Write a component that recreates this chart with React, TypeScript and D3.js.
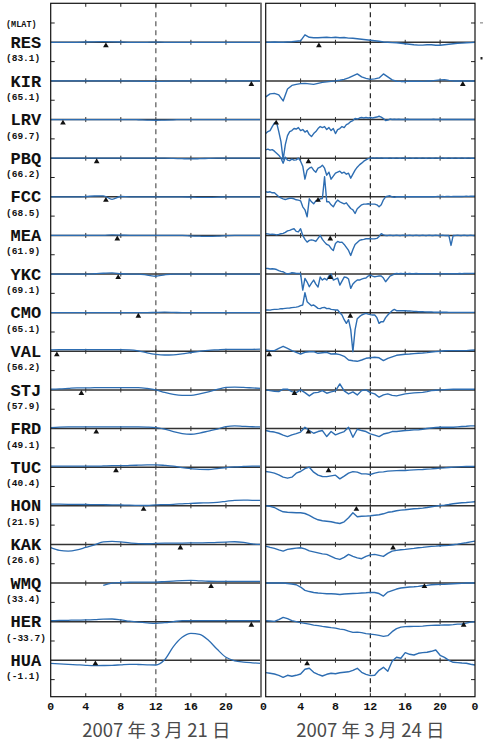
import React from 'react';
import * as d3 from 'd3';

// ---------- data ----------
const STATIONS = ['RES','KIR','LRV','PBQ','FCC','MEA','YKC','CMO','VAL','STJ','FRD','TUC','HON','KAK','WMQ','HER','HUA'];
const MLAT = ['(83.1)','(65.1)','(69.7)','(66.2)','(68.5)','(61.9)','(69.1)','(65.1)','(56.2)','(57.9)','(49.1)','(40.4)','(21.5)','(26.6)','(33.4)','(-33.7)','(-1.1)'];
const HOUR_TICKS = [0, 4, 8, 12, 16, 20, 24];
const HOUR_LABELS = ['0','4','8','12','16','20','0'];
const TITLES = ['2007 年 3 月 21 日', '2007 年 3 月 24 日'];
// UT hour of local-time marker (triangle) per station
const TRI_DAY1 = [6.3,22.9,1.4,5.25,6.3,7.6,7.7,10.0,0.7,3.5,5.2,7.45,10.6,14.8,18.3,22.9,5.1];
const TRI_DAY2 = [6.1,22.6,1.2,4.9,6.0,7.4,7.4,9.7,0.4,3.3,4.9,7.2,10.4,14.6,18.2,22.7,4.75];

// values in units of 10 nT, uniformly sampled over 0-24 UT (hourly for day 1)
const RES_1 = [0,0,0,0,0.3,0.5,0.6,0.5,0.3,0,0,0,0.2,0,0,0,0,0,0,0,0,0,0,0,0];
const KIR_1 = [0,0,0,0,0,0,0,0,0,0,-0.3,-0.5,-0.5,-0.3,0,0,0,0,0,0,0,0,0,0,0];
const LRV_1 = [0,0,0,0,0,0,0,0,0,0,-0.2,-0.5,-0.7,-0.5,-0.3,0,0,0,0,0,0,0,0,0,0];
const PBQ_1 = [0,0,0,0,0,0,0,0,0,0,0,0,0,0,-0.2,-0.5,-0.7,-0.5,-0.2,0,0,0,0,0,0];
const FCC_1 = [0,0,0,0,0.3,0.8,1,-2.5,0.3,0,0,0,0,0,0,0,-0.3,-0.6,-0.6,-0.4,0,0,0,0,0];
const MEA_1 = [0,0,0,0,0,0,0,0.5,0.3,0,0,0,0,0,0,0,-0.5,-0.8,-1,-0.8,-0.3,0,0,0,0];
const YKC_1 = [0,0,0,0,0,0.3,0.8,1.2,0.3,0,0,-1,-2.2,-0.8,0,0,0,0,0,0,0,0,0,0,0];
const CMO_1 = [0,0,0,0,0,0,0,0,0,0,0,0,0.3,0.5,0.3,0,0,0,0,0,0,0,0,0,0];
const VAL_1 = [1.5,1.7,1.7,1.7,1.7,1.7,1.7,1.7,1.7,1.5,0.5,-1.5,-3,-3.7,-3.5,-2.5,-1.2,0,1,1.5,2,2,2,2,2.2];
const STJ_1 = [0.7,1,1.5,2,2,2.3,2.3,2.3,2.3,2.3,2.3,1.5,0,-2.5,-4.5,-5.5,-5.5,-4,-2,0.5,2.5,2.8,2.5,2,1.5];
const FRD_1 = [1,1.5,1.7,1.7,1.7,1.7,1.7,1.7,1.7,1.7,1.7,1.5,1,-0.5,-3,-5,-5.7,-4.5,-2.5,-0.5,2,2.7,2.2,1.8,1.7];
const TUC_1 = [1,1,1,1,1,1,1.2,1.5,1.5,1.7,2,2.3,2.3,1.8,1,-0.5,-1.5,-2.2,-2.3,-1.5,-0.5,0.3,0.7,1,1];
const HON_1 = [1.7,1.6,1.5,1.4,1.3,1.2,1.1,1,0.8,0.6,0.4,0.3,1,1.2,1.5,2,2.5,2.8,3,3.5,4.5,5.5,5.7,5.5,5.5];
const KAK_1 = [-3.3,-6,-6.7,-5.5,-3,-0.5,2.5,3,2.5,1.5,0.8,0.7,1,1.2,1.3,1.4,1.5,1.6,1.7,2,2.3,2.7,2,0.5,0];
const WMQ_1 = [null,null,null,null,null,null,-2.3,0,0.5,0.8,1,1,1,1.5,2,2.5,2.7,2.2,1.8,1.7,1.7,1.7,1.7,1.7,1.7];
const HER_1 = [1,1.2,1.4,1.6,1.7,2,2.5,2.7,1.8,0.5,-0.5,-1.2,-1.7,-1,0,1,1,1,1,1,1,1,1,1,1];
const HUA_1 = [-3,-3.5,-4,-4.5,-5,-5.3,-5.2,-5,-4.5,-4,-4.2,-4.5,-4.7,0.5,13.7,23,27,26,20,11,3,-0.5,-1.8,-2.5,-3];

// day 2: half-hourly or quarter-hourly samples
const RES_2 = [
  0,0,0.3,0, 0,0.3,0.5,1, 1.5,7.5,5,4.5, 4.5,4.8,5,4.7, 5,4.5,4.8,4.2, 4,3.5,3,2.5,
  2,1.5,1,0.3, 0,-0.3,-0.5,-1, -1.5,-2,-2.5,-2.8, -2.8,-2.5,-2.5,-3, -3,-2.5,-2,-1.5, -1,-0.8,-0.5,-0.3, 0];
const KIR_2 = [
  -16,-13,-12.5,-14, -20,-8,-4.5,-3.5, -2.7,-2.5,-3,-3.5, -2.5,-1.5,-1,-0.5, 0,0.7,1.5,3, 5,7,4,2.5,
  1.5,2,3,7, 4,1,-0.3,-0.5, -0.5,-0.3,-0.3,-0.3, -0.5,0,0,0.5, 1,1.3,0.5,0, 0,0,0,0, 0];
const LRV_2 = [
  -14,-12,-11,-7,-3.5,-3,-12,-22,
  -40,-25,-16,-12,-11,-9,-9.5,-8,
  -11,-10,-12.5,-11,-15,-17,-14,-12,
  -9,-7,-8,-7,-10,-8,-11,-9,
  -14,-10,-9,-7,-8,-5,-4,-2,
  -1,1,0.5,1.5,2,1.5,2,1.5,
  2,1.5,2,2.5,3.3,2.5,1,-1,
  -0.5,0.5,0,0.3,0,0.3,0,0.2,
  0,0.3,0,0,0.2,0,0,0.2,
  0,0,0.2,0,0,0.3,0,0,
  0.2,0,0,0.2,0,0,0.2,0,
  0,0.2,0,0,0.2,0,0,0,
  0];
const PBQ_2 = [
  8.3,9,8,8.5,7,5,3,0,
  -5,1,-2,-2.5,-1,-2,-1.7,0,
  -3,-8,-21,-12,-10,-9,-12,-14,
  -10,-9,-7,-10,-17,-14,-21,-18,
  -15,-14,-13,-15,-14,-16,-15,-20,
  -16,-12,-9,-6.7,-5,-3,-1.7,-0.5,
  0,0.3,0,0.2,0,0.3,0,0,
  0,0.2,0,0,0.2,0,0,0.2,
  0,0,0.2,0,0,0.2,0,0,
  0.2,0,0,0.2,0,0,0.2,0,
  0,0.2,0,0,0.2,0,0,0.2,
  0,0,0.2,0,0,0.2,0,0,
  0];
const FCC_2 = [
  5,4.5,5,4,4,2,0,-1,
  -2,-2.7,-2,-1.5,-1.5,-2,-3,-3.3,
  -4,-10,-13,-20,-2,-5,-7,-4,
  -4,-2,-1.7,20,-5,-5,-8,-10,
  -6,-3.3,-5,-6,-7,-6,-9,-11.7,
  -13,-16.7,-12,-10,-8,-7.3,-7.3,-7,
  -7.3,-7.3,-7.3,-8,-10,-8,-3,0,
  0.5,1,0,-0.5,0,0.2,0,0,
  0.2,0,0,0.2,0,0,0.2,0,
  0,0.2,0,0,0.2,0,0.2,0.3,
  0.2,0.3,0.2,0.3,0.3,0.2,0.3,0.3,
  0.3,0.4,0.3,0.4,0.5,0.4,0.5,0.5,
  0.5];
const MEA_2 = [
  1.7,1.5,1,1.2,1,0.5,1,1.7,
  2,3,4.5,5,6,6.7,4,3.5,
  6.7,0,-4,-6.7,-5,-4.5,-5,-6,
  -3,0,-4,-6.7,-9,-10,-13,-15,
  -8,-6,-7,-6.7,-9,-12,-15,-20,
  -14,-9,-7,-5,-4.3,-4,-3.3,-3.3,
  -3.3,-3.5,-3.3,-3,-1,1.7,0.5,0,
  0,0.2,0,0,0.2,0,0,0.2,
  0,0,0.2,0,0,0.2,0,0,
  0.2,0,0,0.2,0,0,0.2,0,
  0,0.2,0,0,0,-10,0,0,
  0.2,0,0,0.2,0,0,0.2,0,
  0];
const YKC_2 = [
  5.7,5.5,5,5.3,5,4.5,3.5,2.7,
  2.3,1,0,0.5,1.3,1,0.5,0.7,
  0.5,-16,-4.3,-8,-12.7,-9,-6,-10,
  -13,-3,-6,-4.3,-6,-2,0,-6,
  -5,-4,-11,-7,-3,-3.3,-5,-14.3,
  -10,-7.7,-6,-6,-5,-4.3,-4,-2,
  -1,-2,-2.7,-2.3,-2,-2,-4,-7.7,
  -5,-2,-1,0,0.5,0.3,0.5,0.3,
  0.5,0.3,0.5,0.3,0.3,0.5,0.3,0.3,
  0.3,0.3,0.2,0.3,0.2,0.3,0.3,0.2,
  0.3,0.2,0.3,0.3,0.2,0.3,0.3,0.3,
  0.3,0.5,0.3,0.5,0.5,0.5,0.7,0.7,
  0.7];
const CMO_2 = [
  2.7,2.7,2.5,3,3.3,3.3,3.5,4,
  4,4.3,4.5,4.7,5,5.3,5.5,6,
  7,7.7,20,11,9,7,7.7,6,
  4.3,4,5,5.3,4,4.3,3.3,3,
  2.7,2.7,0,-2.3,-7,-10.7,-7,-17,
  -39,-17,-6,-4,-2.3,-1.5,-0.7,-1.5,
  -2,-2.3,-2.3,-5,-10.7,-9,-9,-5,
  -2.3,0,2,3.3,2,2,2,2,
  2,1.7,1.7,1.5,1.3,1.2,1,1,
  1,0.8,0.7,0.7,0.7,0.5,0.5,0.5,
  0.5,0.5,0.5,0.5,0.3,0.3,0.3,0.3,
  0.3,0.3,0.3,0.3,0.3,0.3,0.3,0.3,
  0.3];
const VAL_2 = [
  1.3,0.7,0.7,3, 5,3,0.7,-1, -2.7,-1,-0.5,-0.3, -2,-1.5,-1,-2.7, -2.5,-3.3,-5,-8.7, -9.5,-10,-8.7,-7,
  -6.5,-6,-6.5,-9.3, -7,-5.5,-4,-3.5, -3,-2.7,-2.3,-2, -1.7,-1.3,-0.7,-0.3, 0,0.5,0.7,0.7, 0.7,0.7,0.7,1, 1.3];
const STJ_2 = [
  0,-0.7,-1.3,-1.7, 0.7,0.7,-1.7,-2.7, 0,-2.7,-6,-3, -2.5,-0.7,-3.3,-2, -1,6,-1,-4, -2,-5,-0.7,0,
  -2.7,-4,-7.3,-5, -4,-5.5,-6,-5, -4,-3.5,-3,-2.7, -2.5,-1.7,-0.7,-0.3, 0,0.3,0.5,0.7, 0.7,0.7,0.7,0.7, 0.7];
const FRD_2 = [
  -2,-3,-3.5,-4.7, -6.5,-8,-6.3,-5, -3.5,1.3,-2,-4.7, -3,-2,-8,-3, -6.3,-4.5,-3,1.3, -8.7,-0.7,-2,-3,
  -5.3,-6.5,-8,-5.5, -4.5,-3,-3,-2.5, -2,-1.7,-1.3,-1.3, -0.7,0,0.5,1, 1.3,1.3,1.3,1.3, 1.7,2,2.3,2.7, 2.7];
const TUC_2 = [
  -4.3,-5,-6,-7.7, -10,-11,-10,-6, -4.3,-1.5,0,-5, -8,-9.3,-9.5,-8.7, -8,-11.7,-9,-6, -4.5,-5,-6.7,-6.7,
  -7.3,-6,-5,-4.7, -4,-3.7,-3.5,-3.3, -3.3,-3,-2.7,-2.5, -2.3,-2,-1.7,-1.3, -1,-0.7,-0.3,0, 0.3,0.5,0.7,0.7, 0.7];
const HON_2 = [
  0,-0.5,-1.7,-4, -6,-6.5,-6.7,-7, -7,-7.7,-9.5,-12, -14,-15,-15.5,-16, -17,-17.7,-16,-12, -7,-11,-10.5,-10.3,
  -10,-9.5,-9,-8, -6.5,-6,-5,-4.3, -4,-3.5,-3,-2.7, -2.3,-1.7,-1,-0.3, 0.3,0.7,1.3,2, 2.5,3,3.3,3.7, 4];
const KAK_2 = [
  -1.7,-3,-4,-5.5, -6.7,-5,-4.3,-3.7, -3.3,-4.5,-6.5,-7.5, -8.5,-9.5,-10,-12, -14,-15,-13,-10, -12,-13.5,-14.3,-12,
  -10.5,-10,-11,-12, -9,-6.7,-6,-5.3, -5,-4.5,-4,-3.3, -3,-2.5,-2,-1.7, -1.3,-1.2,-1,-0.3, 0.3,1,1.7,2.5, 3.3];
const WMQ_2 = [
  0,0,0,0, 0,-0.5,-1,-1.7, -4,-7.3,-8.5,-9.5, -10,-10.3,-10.7,-10.7, -11,-11.5,-11,-10.7, -10.5,-10.3,-10,-9.7,
  -9.3,-9.5,-10.5,-13, -9,-7.5,-6,-5, -4.5,-4,-3.7,-3.3, -2.7,-2.3,-1.7,-1.5, -1.3,-1.2,-1,-0.7, -0.5,-0.3,0,0, 0];
const HER_2 = [
  1,0.7,0.3,2, 4.3,3,1,0, -1,-1.7,-2.5,-3.5, -4,-4.7,-5.3,-6, -6.5,-7.5,-8,-9.5, -10.7,-10.5,-11,-12,
  -12.5,-13,-13.7,-14.7, -14,-10,-7,-5.5, -5,-4.8,-4.7,-4.7, -4.5,-4,-3.7,-3.5, -3.5,-3.3,-3.3,-3, -2.5,-2.3,-1.5,-0.5, 0];
const HUA_2 = [
  -12.3,-13,-13.7,-15, -17,-15,-16,-15, -13.7,-9,-8,-12, -14,-15.7,-14,-13, -13.5,-12.5,-12,-11.5, -10,-8,-12,-14,
  -15.3,-15,-10,-7, -11,-1,3,2, 7.7,6,5.3,7, 7.7,8,9,10.3, 5,3,0,-2, -2.3,-2.7,-3,-4, -4.7];

const DAY1 = [RES_1,KIR_1,LRV_1,PBQ_1,FCC_1,MEA_1,YKC_1,CMO_1,VAL_1,STJ_1,FRD_1,TUC_1,HON_1,KAK_1,WMQ_1,HER_1,HUA_1];
const DAY2 = [RES_2,KIR_2,LRV_2,PBQ_2,FCC_2,MEA_2,YKC_2,CMO_2,VAL_2,STJ_2,FRD_2,TUC_2,HON_2,KAK_2,WMQ_2,HER_2,HUA_2];

// ---------- layout ----------
const W = 483, H = 744;
const TOP = 3.3, BOTTOM = 696.7;
const LINE_COLOR = '#2d6db2';
const MONO = '"Liberation Mono", "DejaVu Sans Mono", monospace';
const CJK = '"Noto Sans CJK SC", "Noto Sans CJK JP", sans-serif';

const rowY = d3.scalePoint<string>().domain(STATIONS).range([42.3, 660.3]);
const rowStep = rowY.step();
const valueScale = d3.scaleLinear().domain([0, 10]).range([0, -10]);

type Panel = { x: d3.ScaleLinear<number, number>; data: (number | null)[][]; tri: number[]; smooth: boolean; dashColor: string; width: number };

const x1 = d3.scaleLinear().domain([0, 24]).range([50.7, 261]);
const x2 = d3.scaleLinear().domain([0, 24]).range([265.7, 475]);

const panels: Panel[] = [
  { x: x1, data: DAY1, tri: TRI_DAY1, smooth: true, dashColor: '#555', width: 1.3 },
  { x: x2, data: DAY2, tri: TRI_DAY2, smooth: false, dashColor: '#222', width: 1.4 },
];

function PanelView({ p, idx }: { p: Panel; idx: number }) {
  const [x0, xEnd] = p.x.range();
  const mids = d3.range(STATIONS.length + 1).map(i => (rowY(STATIONS[0]) as number) + (i - 0.5) * rowStep);
  const clipId = `clip${idx}`;
  return (
    <g>
      <defs>
        <clipPath id={clipId}>
          <rect x={x0} y={TOP} width={xEnd - x0} height={BOTTOM - TOP} />
        </clipPath>
      </defs>
      {STATIONS.map(s => (
        <line key={'b' + s} x1={x0} x2={xEnd} y1={rowY(s)} y2={rowY(s)} stroke="#333" strokeWidth={1.4} />
      ))}
      {STATIONS.map(s =>
        HOUR_TICKS.slice(1, -1).map(h => (
          <line key={'bt' + s + h} x1={p.x(h)} x2={p.x(h)} y1={(rowY(s) as number) - 2.5} y2={(rowY(s) as number) + 2.5} stroke="#333" strokeWidth={1} />
        ))
      )}
      {HOUR_TICKS.slice(1, -1).map(h => (
        <g key={'tt' + h}>
          <line x1={p.x(h)} x2={p.x(h)} y1={TOP} y2={TOP + 3.5} stroke="#222" strokeWidth={1} />
          <line x1={p.x(h)} x2={p.x(h)} y1={BOTTOM} y2={BOTTOM - 3.5} stroke="#222" strokeWidth={1} />
        </g>
      ))}
      {mids.map((m, i) =>
        idx === 0 ? (
          <line key={'m' + i} x1={x0} x2={x0 + 4} y1={m} y2={m} stroke="#222" strokeWidth={1} />
        ) : (
          <line key={'m' + i} x1={xEnd} x2={xEnd - 4} y1={m} y2={m} stroke="#222" strokeWidth={1} />
        )
      )}
      <line x1={p.x(12)} x2={p.x(12)} y1={TOP} y2={BOTTOM} stroke={p.dashColor} strokeWidth={1.2} strokeDasharray="5,4" />
      <g clipPath={`url(#${clipId})`}>
        {STATIONS.map((s, i) => {
          const vals = p.data[i];
          const step = 24 / (vals.length - 1);
          const y0 = rowY(s) as number;
          const line = d3
            .line<number | null>()
            .defined(d => d != null)
            .x((_, j) => p.x(j * step))
            .y(d => y0 + valueScale(d as number))
            .curve(p.smooth ? d3.curveMonotoneX : d3.curveLinear);
          return <path key={'l' + s} d={line(vals) || ''} fill="none" stroke={LINE_COLOR} strokeWidth={p.width} strokeLinejoin="round" />;
        })}
      </g>
      {STATIONS.map((s, i) => {
        const tx = p.x(p.tri[i]);
        const ty = (rowY(s) as number) + 1;
        const tri = d3.symbol().type(d3.symbolTriangle).size(14)();
        return <path key={'t' + s} d={tri || ''} transform={`translate(${tx},${ty + 2.4})`} fill="#111" />;
      })}
      <rect x={x0} y={TOP} width={xEnd - x0} height={BOTTOM - TOP} fill="none" stroke="#111" strokeWidth={1.2} />
    </g>
  );
}

export default function App() {
  return (
    <div style={{ position: 'absolute', left: 0, top: 0, background: '#fff' }}>
      <svg width={W} height={H} style={{ display: 'block' }}>
        <rect width={W} height={H} fill="#fff" />
        {panels.map((p, i) => (
          <PanelView key={i} p={p} idx={i} />
        ))}
        <line x1={261} x2={261} y1={TOP} y2={BOTTOM} stroke="#777" strokeWidth={2} />
        <text x={6} y={27} fontFamily={MONO} fontWeight="bold" fontSize={8.5} fill="#111">(MLAT)</text>
        {STATIONS.map((s, i) => (
          <g key={'lab' + s}>
            <text x={10.5} y={(rowY(s) as number) + 5.6} fontFamily={MONO} fontWeight="bold" fontSize={17} fill="#111">{s}</text>
            <text x={6} y={(rowY(s) as number) + 19} fontFamily={MONO} fontWeight="bold" fontSize={9.5} fill="#111">{MLAT[i]}</text>
          </g>
        ))}
        {HOUR_TICKS.map((h, i) =>
          i < HOUR_TICKS.length - 1 ? (
            <text key={'hl1' + h} x={x1(h)} y={710} textAnchor="middle" fontFamily={MONO} fontWeight="bold" fontSize={11.5} fill="#111">{HOUR_LABELS[i]}</text>
          ) : null
        )}
        {HOUR_TICKS.map((h, i) => (
          <text key={'hl2' + h} x={i === 0 ? (x1(24) + x2(0)) / 2 : x2(h)} y={710} textAnchor="middle" fontFamily={MONO} fontWeight="bold" fontSize={11.5} fill="#111">{HOUR_LABELS[i]}</text>
        ))}
        <text x={(x1(0) + x1(24)) / 2 + 0.5} y={737} textAnchor="middle" fontFamily={CJK} fontSize={18.5} fill="#4a4a4a">{TITLES[0]}</text>
        <text x={(x2(0) + x2(24)) / 2} y={737} textAnchor="middle" fontFamily={CJK} fontSize={18.5} fill="#4a4a4a">{TITLES[1]}</text>
        <rect x={480} y={22.5} width={3} height={0.8} fill="#555" />
        <rect x={480.5} y={57} width={2} height={2.5} fill="#222" />
      </svg>
    </div>
  );
}
